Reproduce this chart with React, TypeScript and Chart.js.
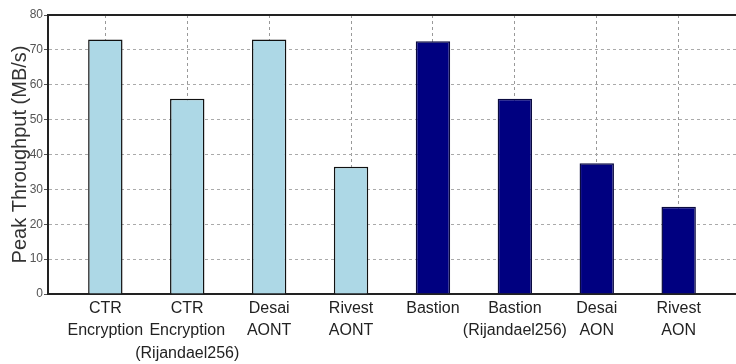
import React, { useEffect, useRef } from "react";
import { Chart, registerables } from "chart.js";

Chart.register(...registerables);

// Category labels (multi-line)
const categories: string[][] = [
  ["CTR", "Encryption"],
  ["CTR", "Encryption", "(Rijandael256)"],
  ["Desai", "AONT"],
  ["Rivest", "AONT"],
  ["Bastion"],
  ["Bastion", "(Rijandael256)"],
  ["Desai", "AON"],
  ["Rivest", "AON"],
];

// Light-blue series: first four categories
const lightValues = [73, 56, 73, 36.5];
// Navy series: last four categories
const darkValues = [72.5, 56, 37.5, 25];

const yTicks = [0, 10, 20, 30, 40, 50, 60, 70, 80];
const yTitle = "Peak Throughput (MB/s)";

const SANS = "'Liberation Sans', Arial, sans-serif";

const topFrame = {
  id: "topFrame",
  afterDraw(chart: any) {
    const { ctx, chartArea } = chart;
    ctx.save();
    ctx.strokeStyle = "#222";
    ctx.lineWidth = 2;
    ctx.beginPath();
    ctx.moveTo(chartArea.left, chartArea.top);
    ctx.lineTo(chartArea.right, chartArea.top);
    ctx.stroke();
    ctx.restore();
  },
};

export default function App() {
  const ref = useRef<HTMLCanvasElement>(null);

  useEffect(() => {
    document.body.style.margin = "0";
    const canvas = ref.current;
    if (!canvas) return;
    const chart = new Chart(canvas, {
      type: "bar",
      data: {
        datasets: [
          {
            label: "AONT",
            data: lightValues.map((v, i) => ({ x: i + 1, y: v })),
            backgroundColor: "#ADD8E6",
            borderColor: "#111",
            borderWidth: 1.5,
            barPercentage: 0.42,
            categoryPercentage: 1,
            grouped: false,
          } as any,
          {
            label: "AON",
            data: darkValues.map((v, i) => ({ x: i + 1 + lightValues.length, y: v })),
            backgroundColor: "#000080",
            borderColor: "#0a0a40",
            borderWidth: 1.5,
            barPercentage: 0.42,
            categoryPercentage: 1,
            grouped: false,
          } as any,
        ],
      },
      options: {
        animation: false,
        responsive: false,
        layout: { padding: { top: 15, left: 0, right: 0, bottom: 0 } },
        plugins: {
          legend: { display: false },
          tooltip: { enabled: false },
        },
        scales: {
          x: {
            type: "linear",
            offset: false,
            min: 0.3,
            max: 8.7,
            afterBuildTicks: (axis: any) => {
              axis.ticks = categories.map((_, i) => ({ value: i + 1 }));
            },
            afterFit: (s: any) => {
              s.height = 70;
            },
            ticks: {
              autoSkip: false,
              maxRotation: 0,
              minRotation: 0,
              padding: 3,
              color: "#222",
              font: { family: SANS, size: 16, lineHeight: 1.42 },
              callback: (v: any) => categories[Math.round(Number(v)) - 1] ?? "",
            },
            grid: { color: "#999", drawTicks: false, lineWidth: 1, offset: false },
            border: { color: "#222", width: 2, dash: [3, 3] },
          },
          y: {
            min: 0,
            max: 80,
            afterBuildTicks: (axis: any) => {
              axis.ticks = yTicks.map((v) => ({ value: v }));
            },
            afterFit: (s: any) => {
              s.width = 48;
            },
            ticks: {
              padding: 1,
              color: "#555",
              font: { family: SANS, size: 12 },
            },
            grid: { color: "#aaa", tickLength: 4, tickColor: "#555", lineWidth: 1 },
            border: { color: "#222", width: 2, dash: [3, 3] },
            title: {
              display: true,
              text: yTitle,
              color: "#333",
              font: { family: SANS, size: 20 },
              padding: { top: 8, bottom: 0 },
            },
          },
        },
      },
      plugins: [topFrame],
    } as any);
    return () => chart.destroy();
  }, []);

  return (
    <div style={{ width: 736, height: 364 }}>
      <canvas ref={ref} width={736} height={364} style={{ display: "block" }} />
    </div>
  );
}
